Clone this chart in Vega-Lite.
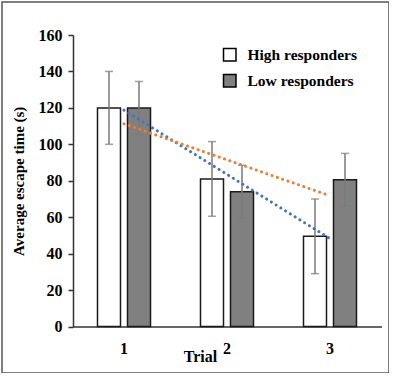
{
  "$schema": "https://vega.github.io/schema/vega-lite/v6.json",
  "width": 387,
  "height": 371,
  "autosize": {"type": "none"},
  "padding": {"left": 2, "top": 2, "right": 0, "bottom": 0},
  "background": "white",
  "config": {
    "view": {"stroke": "#555555", "strokeWidth": 1.5},
    "font": "Liberation Serif"
  },
  "datasets": {
    "bars": [
      {"trial": "1", "group": "High responders", "value": 120, "lo": 100, "hi": 140},
      {"trial": "2", "group": "High responders", "value": 81, "lo": 60.5, "hi": 101.5},
      {"trial": "3", "group": "High responders", "value": 49.5, "lo": 29, "hi": 70},
      {"trial": "1", "group": "Low responders", "value": 120, "lo": 105.5, "hi": 134.5},
      {"trial": "2", "group": "Low responders", "value": 74, "lo": 59.5, "hi": 88.5},
      {"trial": "3", "group": "Low responders", "value": 80.5, "lo": 66, "hi": 95}
    ],
    "trend": [
      {"trial": "1", "series": "High", "value": 118.75},
      {"trial": "3", "series": "High", "value": 48.25},
      {"trial": "1", "series": "Low", "value": 111.25},
      {"trial": "3", "series": "Low", "value": 71.75}
    ]
  },
  "encoding": {
    "x": {
      "field": "trial", "type": "nominal",
      "scale": {"range": [70.5, 379.5], "paddingInner": 0, "paddingOuter": 0},
      "axis": {
        "offset": -46.5, "labelAngle": 0, "ticks": false, "domainColor": "#333333", "domainWidth": 1.5,
        "labelFont": "Liberation Serif", "labelFontSize": 16, "labelFontWeight": "bold", "labelColor": "black",
        "labelPadding": 14,
        "title": "Trial", "titleFont": "Liberation Serif", "titleFontSize": 16, "titleFontWeight": "bold", "titleColor": "black",
        "titleX": 198, "titleY": 35, "titleBaseline": "alphabetic", "titleAlign": "center"
      }
    }
  },
  "layer": [
    {
      "data": {"name": "bars"},
      "mark": {"type": "bar", "stroke": "#1a1a1a", "strokeWidth": 1.5},
      "encoding": {
        "xOffset": {"field": "group", "type": "nominal", "scale": {"paddingInner": 0.2333, "paddingOuter": 0.8333}},
        "y": {
          "field": "value", "type": "quantitative",
          "scale": {"domain": [0, 160], "range": [324.5, 33], "nice": false, "zero": true},
          "axis": {
            "offset": -71, "values": [0, 20, 40, 60, 80, 100, 120, 140, 160], "grid": false,
            "domainColor": "#333333", "domainWidth": 1.5, "tickColor": "#333333", "tickWidth": 1.5, "tickSize": 5,
            "labelFont": "Liberation Serif", "labelFontSize": 16, "labelFontWeight": "bold", "labelColor": "black", "labelPadding": 6,
            "title": "Average escape time (s)", "titleFont": "Liberation Serif", "titleFontSize": 15, "titleFontWeight": "bold", "titleColor": "black",
            "titleX": -55, "titleBaseline": "middle"
          }
        },
        "fill": {
          "field": "group", "type": "nominal",
          "scale": {"domain": ["High responders", "Low responders"], "range": ["white", "#808080"]},
          "legend": {
            "orient": "none", "legendX": 220, "legendY": 45, "title": null,
            "symbolType": "square", "symbolSize": 156, "symbolStrokeColor": "black", "symbolStrokeWidth": 1.5,
            "labelFont": "Liberation Serif", "labelFontSize": 15.5, "labelFontWeight": "bold", "labelColor": "black",
            "labelOffset": 10, "rowPadding": 7, "padding": 0
          }
        }
      }
    },
    {
      "data": {"name": "bars"},
      "mark": {"type": "rule", "color": "#7a7a7a", "strokeWidth": 1.5},
      "encoding": {
        "xOffset": {"field": "group", "type": "nominal"},
        "y": {"field": "lo", "type": "quantitative"},
        "y2": {"field": "hi"}
      }
    },
    {
      "data": {"name": "bars"},
      "mark": {"type": "tick", "color": "#7a7a7a", "thickness": 1.5, "size": 8, "orient": "horizontal"},
      "encoding": {
        "xOffset": {"field": "group", "type": "nominal"},
        "y": {"field": "lo", "type": "quantitative"}
      }
    },
    {
      "data": {"name": "bars"},
      "mark": {"type": "tick", "color": "#7a7a7a", "thickness": 1.5, "size": 8, "orient": "horizontal"},
      "encoding": {
        "xOffset": {"field": "group", "type": "nominal"},
        "y": {"field": "hi", "type": "quantitative"}
      }
    },
    {
      "data": {"name": "trend"},
      "mark": {"type": "line", "strokeWidth": 3, "strokeDash": [0.1, 5.5], "strokeCap": "round"},
      "encoding": {
        "y": {"field": "value", "type": "quantitative"},
        "stroke": {
          "field": "series", "type": "nominal",
          "scale": {"domain": ["High", "Low"], "range": ["#4472C4", "#ED7D31"]},
          "legend": null
        }
      }
    }
  ]
}
